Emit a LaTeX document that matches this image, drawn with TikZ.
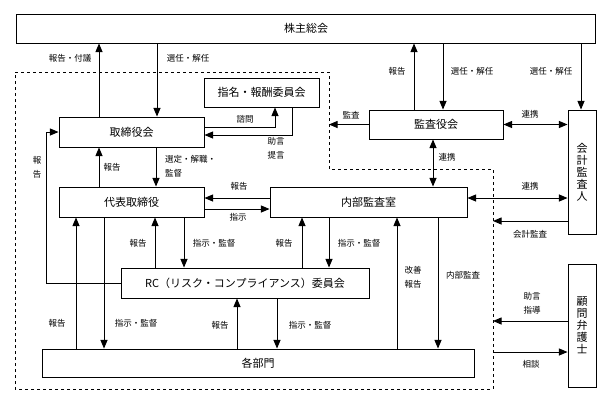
\documentclass[tikz,border=0pt]{standalone}
\usepackage{fontspec}
\setmainfont{Noto Sans CJK JP}
\usepackage{tikz}
\usetikzlibrary{arrows}

\tikzset{
  box/.style={draw, line width=1pt, inner sep=0pt, font=\fontsize{11}{12}\selectfont},
  lbl/.style={inner sep=0pt, font=\fontsize{8.5}{14}\selectfont},
  arr/.style={line width=1pt, -triangle 45},
  darr/.style={line width=1pt, triangle 45-triangle 45},
  wire/.style={line width=1pt}
}

\begin{document}
\begin{tikzpicture}[x=1pt, y=-1pt]
\useasboundingbox (0,0) rectangle (613,402);
% boundary of the company
\draw[dashed, line width=0.8pt] (15,72) -- (329,72) -- (329,169) -- (493,169)
  -- (493,389) -- (15,389) -- cycle;
\coordinate (lb) at (329,0);
\coordinate (rb) at (493,0);

% boxes
\node[box, minimum width=579, minimum height=29] (kabu) at (306,28.5) {株主総会};
\node[box, minimum width=115, minimum height=29] (shimei) at (261.5,92.5) {指名・報酬委員会};
\node[box, minimum width=145, minimum height=30] (tori) at (131.5,132) {取締役会};
\node[box, minimum width=145, minimum height=30] (daihyo) at (131.5,202) {代表取締役};
\node[box, minimum width=197, minimum height=30] (naibu) at (368.5,202) {内部監査室};
\node[box, minimum width=134, minimum height=29] (kansa) at (436,124.5) {監査役会};
\node[box, minimum width=28, minimum height=124, align=center] (kaikei) at (582,172) {会\\計\\監\\査\\人};
\node[box, minimum width=248, minimum height=30] (rc) at (245,283) {RC（リスク・コンプライアンス）委員会};
\node[box, minimum width=432, minimum height=28] (bumon) at (258,363) {各部門};
\node[box, minimum width=28, minimum height=123, align=center] (komon) at (582,325.5) {顧\\問\\弁\\護\\士};

% shareholders
\draw[arr] (tori.north -| 99,0) -- (kabu.south -| 99,0);
\draw[arr] (kabu.south -| 157,0) -- (tori.north -| 157,0);
\draw[arr] (kansa.north -| 414,0) -- (kabu.south -| 414,0);
\draw[arr] (kabu.south -| 443,0) -- (kansa.north -| 443,0);
\draw[arr] (kabu.south -| 581,0) -- (kaikei.north -| 581,0);
\node[lbl] (l1) at (70,58) {報告・付議};
\node[lbl] (l2) at (188,58) {選任・解任};
\node[lbl] (l3) at (397,71) {報告};
\node[lbl] (l4) at (472,71) {選任・解任};
\node[lbl] (l5) at (551,71) {選任・解任};

% nomination committee
\draw[arr] (tori.east |- 0,127) -| (shimei.south -| 275,0);
\draw[arr] (shimei.south -| 292,0) |- (tori.east |- 0,135);
\node[lbl] (l6) at (245,119) {諮問};
\node[lbl, align=center] (l7) at (276,148) {助言\\提言};

% board and representative director
\draw[arr] (daihyo.north -| 99,0) -- (tori.south -| 99,0);
\draw[arr] (tori.south -| 156,0) -- (daihyo.north -| 156,0);
\node[lbl] (l8) at (112,167) {報告};
\node[lbl, align=left, anchor=west] (l9) at (165,166) {選定・解職・\\監督};
\draw[arr] (rc.west) -| (46,132) -- (tori.west |- 0,132);
\node[lbl, align=center] (l10) at (37,167) {報\\告};

% representative director and internal audit
\draw[arr] (naibu.west |- 0,198) -- (daihyo.east |- 0,198);
\draw[arr] (daihyo.east |- 0,209) -- (naibu.west |- 0,209);
\node[lbl] (l11) at (239,186) {報告};
\node[lbl] (l12) at (238,217) {指示};

% audit board
\draw[arr] (kansa.west) -- (kansa.west -| lb);
\draw[darr] (kansa.east) -- (kaikei.west |- kansa.east);
\draw[darr] (kansa.south -| 433,0) -- (naibu.north -| 433,0);
\node[lbl] (l13) at (351,115) {監査};
\node[lbl] (l14) at (530,114) {連携};
\node[lbl] (l15) at (447,157) {連携};

% accounting auditor
\draw[darr] (naibu.east |- 0,198) -- (kaikei.west |- 0,198);
\draw[arr] (kaikei.west |- 0,221) -- (rb |- 0,221);
\node[lbl] (l16) at (530,186) {連携};
\node[lbl] (l17) at (530,234) {会計監査};

% RC committee
\draw[arr] (rc.north -| 155,0) -- (daihyo.south -| 155,0);
\draw[arr] (daihyo.south -| 184,0) -- (rc.north -| 184,0);
\draw[arr] (rc.north -| 302,0) -- (naibu.south -| 302,0);
\draw[arr] (naibu.south -| 329,0) -- (rc.north -| 329,0);
\node[lbl] (l18) at (138,243) {報告};
\node[lbl] (l19) at (214,243) {指示・監督};
\node[lbl] (l20) at (284,243) {報告};
\node[lbl] (l21) at (359,243) {指示・監督};

% departments
\draw[arr] (bumon.north -| 76,0) -- (daihyo.south -| 76,0);
\draw[arr] (daihyo.south -| 104,0) -- (bumon.north -| 104,0);
\draw[arr] (bumon.north -| 237,0) -- (rc.south -| 237,0);
\draw[arr] (rc.south -| 277,0) -- (bumon.north -| 277,0);
\draw[arr] (bumon.north -| 397,0) -- (naibu.south -| 397,0);
\draw[arr] (naibu.south -| 438,0) -- (bumon.north -| 438,0);
\node[lbl] (l22) at (57,323) {報告};
\node[lbl] (l23) at (136,323) {指示・監督};
\node[lbl] (l24) at (220,325) {報告};
\node[lbl] (l25) at (310,325) {指示・監督};
\node[lbl, align=center] (l26) at (413,277) {改善\\報告};
\node[lbl] (l27) at (463,275) {内部監査};

% legal advisor
\draw[arr] (komon.west |- 0,321) -- (rb |- 0,321);
\draw[arr] (rb |- 0,352) -- (komon.west |- 0,352);
\node[lbl, align=center] (l28) at (532,303) {助言\\指導};
\node[lbl] (l29) at (531,364) {相談};
\end{tikzpicture}
\end{document}
